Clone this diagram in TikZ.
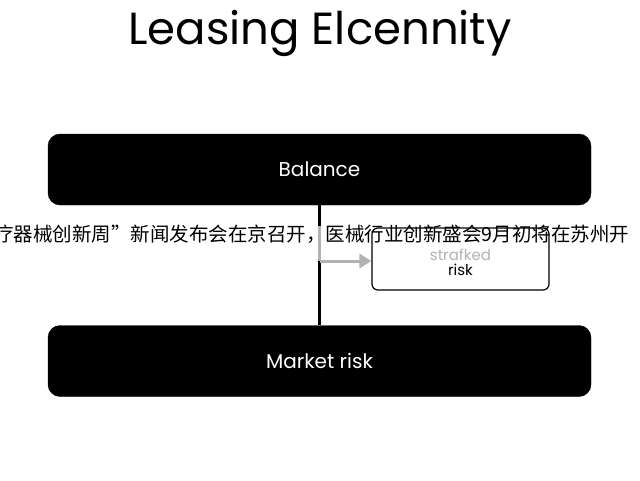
\documentclass[tikz,border=0pt]{standalone}
\usepackage{fontspec}
\setmainfont{Poppins}
\newfontfamily\cjk{Noto Sans CJK SC}
\usetikzlibrary{arrows.meta}
\begin{document}
\begin{tikzpicture}[x=1pt,y=-1pt,
  bigbox/.style={draw=black,fill=black,rounded corners=12pt,minimum width=543pt,minimum height=71pt,text=white,font=\fontsize{20}{24}\selectfont},
  small/.style={draw=black,line width=1.2pt,fill=white,rounded corners=6pt,minimum width=177pt,minimum height=62pt,align=center,font=\fontsize{15}{16}\selectfont}]
\useasboundingbox (0,0) rectangle (640,480);
\node (title) at (320,33) {\fontsize{45}{50}\selectfont Leasing Elcennity};
\node[bigbox] (bal) at (319.5,169.5) {Balance};
\node[bigbox] (mkt) at (319.5,361) {Market risk};
\draw[line width=3pt] (bal.south) -- (mkt.north);
\node[small] (sr) at (460.5,259) {\\[2pt]\textcolor{gray!60}{strafked}\\[-1pt] risk};
\coordinate (g1) at (319.5,226);
\coordinate (g2) at (319.5,261);
\draw[gray!60,line width=3pt] (g1) -- (g2);
\draw[gray!60,line width=3pt,-{Triangle[length=12pt,width=14pt]}] (g2) -- (sr.west|-g2);
\node[anchor=west,inner sep=0pt,font=\cjk\fontsize{19.5}{22}\selectfont] (cn) at (-6,234) {疗器械创新周”新闻发布会在京召开，医械行业创新盛会9月初将在苏州开};
\end{tikzpicture}
\end{document}
